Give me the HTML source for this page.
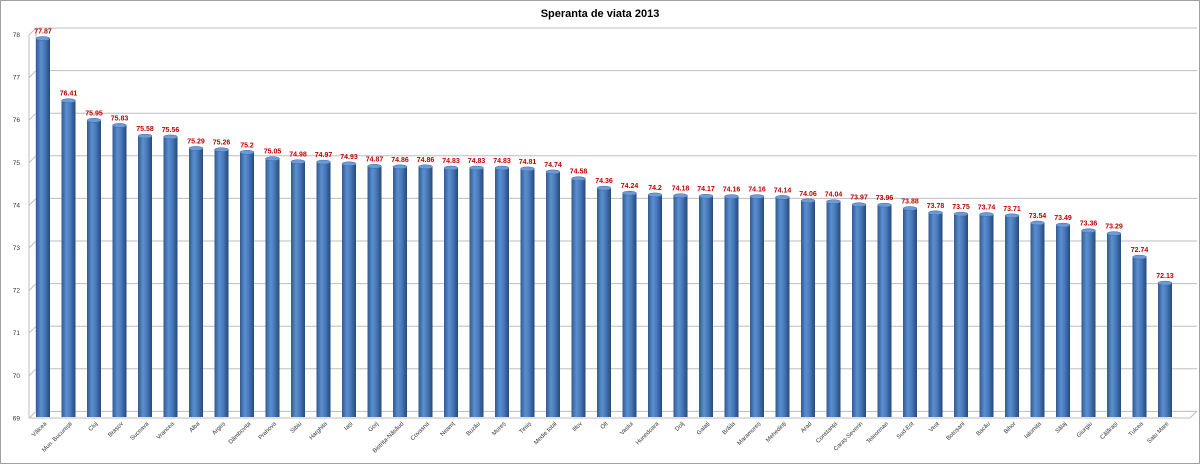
<!DOCTYPE html><html><head><meta charset="utf-8"><style>body{margin:0;background:#fff}svg{display:block}
.b rect{fill:url(#g)}.b ellipse{fill:#6e9bd6;stroke:#3a6aa8;stroke-width:.5}
.v{font-size:7px;font-weight:bold;fill:#c00000;text-anchor:middle}
.l{font-size:6px;fill:#333;text-anchor:end}
.t{font-size:6.5px;fill:#333;text-anchor:end}
.gl line{stroke:#bdbdbd;stroke-width:1}
</style></head><body>
<svg width="1200" height="464" xmlns="http://www.w3.org/2000/svg" font-family="Liberation Sans, sans-serif">
<defs><linearGradient id="g" x1="0" x2="1"><stop offset="0" stop-color="#2f5a92"/><stop offset="0.35" stop-color="#5b8fd0"/><stop offset="0.6" stop-color="#4a7cbc"/><stop offset="1" stop-color="#26497a"/></linearGradient></defs>
<rect x="0.5" y="0.5" width="1199" height="463" fill="#fff" stroke="#a0a0a0"/>
<text x="600" y="17" text-anchor="middle" font-size="11" font-weight="bold">Speranta de viata 2013</text>
<g class="gl">
<line x1="36" y1="28" x2="1197" y2="28"/><line x1="36" y1="70.6" x2="1197" y2="70.6"/><line x1="36" y1="113.2" x2="1197" y2="113.2"/><line x1="36" y1="155.8" x2="1197" y2="155.8"/><line x1="36" y1="198.4" x2="1197" y2="198.4"/><line x1="36" y1="241" x2="1197" y2="241"/><line x1="36" y1="283.6" x2="1197" y2="283.6"/><line x1="36" y1="326.2" x2="1197" y2="326.2"/><line x1="36" y1="368.8" x2="1197" y2="368.8"/><line x1="36" y1="411.4" x2="1197" y2="411.4"/>
<line x1="29" y1="35" x2="36" y2="28"/><line x1="29" y1="77.6" x2="36" y2="70.6"/><line x1="29" y1="120.2" x2="36" y2="113.2"/><line x1="29" y1="162.8" x2="36" y2="155.8"/><line x1="29" y1="205.4" x2="36" y2="198.4"/><line x1="29" y1="248" x2="36" y2="241"/><line x1="29" y1="290.6" x2="36" y2="283.6"/><line x1="29" y1="333.2" x2="36" y2="326.2"/><line x1="29" y1="375.8" x2="36" y2="368.8"/><line x1="29" y1="418.4" x2="36" y2="411.4"/>
<line x1="36" y1="28" x2="36" y2="411"/><line x1="29" y1="35" x2="29" y2="418"/><line x1="29" y1="418" x2="1190" y2="418"/><line x1="1190" y1="418" x2="1197" y2="411"/>
</g>
<g><text class="t" x="20" y="37">78</text><text class="t" x="20" y="79.6">77</text><text class="t" x="20" y="122.2">76</text><text class="t" x="20" y="164.8">75</text><text class="t" x="20" y="207.4">74</text><text class="t" x="20" y="250">73</text><text class="t" x="20" y="292.6">72</text><text class="t" x="20" y="335.2">71</text><text class="t" x="20" y="377.8">70</text><text class="t" x="20" y="420.4">69</text></g>
<g class="b">
<g transform="translate(43)"><rect x="-7" y="38.5" width="14" height="378.5"/><ellipse rx="7" ry="2" cy="38.5"/><text class="v" y="33.5">77.87</text><text class="l" transform="translate(4,424) rotate(-45)">Vâlcea</text></g>
<g transform="translate(68.5)"><rect x="-7" y="100.7" width="14" height="316.3"/><ellipse rx="7" ry="2" cy="100.7"/><text class="v" y="95.7">76.41</text><text class="l" transform="translate(4,424) rotate(-45)">Mun. București</text></g>
<g transform="translate(94)"><rect x="-7" y="120.3" width="14" height="296.7"/><ellipse rx="7" ry="2" cy="120.3"/><text class="v" y="115.3">75.95</text><text class="l" transform="translate(4,424) rotate(-45)">Cluj</text></g>
<g transform="translate(119.5)"><rect x="-7" y="125.4" width="14" height="291.6"/><ellipse rx="7" ry="2" cy="125.4"/><text class="v" y="120.4">75.83</text><text class="l" transform="translate(4,424) rotate(-45)">Brașov</text></g>
<g transform="translate(145)"><rect x="-7" y="136.1" width="14" height="280.9"/><ellipse rx="7" ry="2" cy="136.1"/><text class="v" y="131.1">75.58</text><text class="l" transform="translate(4,424) rotate(-45)">Suceava</text></g>
<g transform="translate(170.5)"><rect x="-7" y="136.9" width="14" height="280.1"/><ellipse rx="7" ry="2" cy="136.9"/><text class="v" y="131.9">75.56</text><text class="l" transform="translate(4,424) rotate(-45)">Vrancea</text></g>
<g transform="translate(196)"><rect x="-7" y="148.4" width="14" height="268.6"/><ellipse rx="7" ry="2" cy="148.4"/><text class="v" y="143.4">75.29</text><text class="l" transform="translate(4,424) rotate(-45)">Alba</text></g>
<g transform="translate(221.5)"><rect x="-7" y="149.7" width="14" height="267.3"/><ellipse rx="7" ry="2" cy="149.7"/><text class="v" y="144.7">75.26</text><text class="l" transform="translate(4,424) rotate(-45)">Argeș</text></g>
<g transform="translate(247)"><rect x="-7" y="152.3" width="14" height="264.7"/><ellipse rx="7" ry="2" cy="152.3"/><text class="v" y="147.3">75.2</text><text class="l" transform="translate(4,424) rotate(-45)">Dâmbovița</text></g>
<g transform="translate(272.5)"><rect x="-7" y="158.7" width="14" height="258.3"/><ellipse rx="7" ry="2" cy="158.7"/><text class="v" y="153.7">75.05</text><text class="l" transform="translate(4,424) rotate(-45)">Prahova</text></g>
<g transform="translate(298)"><rect x="-7" y="161.7" width="14" height="255.3"/><ellipse rx="7" ry="2" cy="161.7"/><text class="v" y="156.7">74.98</text><text class="l" transform="translate(4,424) rotate(-45)">Sibiu</text></g>
<g transform="translate(323.5)"><rect x="-7" y="162.1" width="14" height="254.9"/><ellipse rx="7" ry="2" cy="162.1"/><text class="v" y="157.1">74.97</text><text class="l" transform="translate(4,424) rotate(-45)">Harghita</text></g>
<g transform="translate(349)"><rect x="-7" y="163.8" width="14" height="253.2"/><ellipse rx="7" ry="2" cy="163.8"/><text class="v" y="158.8">74.93</text><text class="l" transform="translate(4,424) rotate(-45)">Iași</text></g>
<g transform="translate(374.5)"><rect x="-7" y="166.3" width="14" height="250.7"/><ellipse rx="7" ry="2" cy="166.3"/><text class="v" y="161.3">74.87</text><text class="l" transform="translate(4,424) rotate(-45)">Gorj</text></g>
<g transform="translate(400)"><rect x="-7" y="166.8" width="14" height="250.2"/><ellipse rx="7" ry="2" cy="166.8"/><text class="v" y="161.8">74.86</text><text class="l" transform="translate(4,424) rotate(-45)">Bistrița-Năsăud</text></g>
<g transform="translate(425.5)"><rect x="-7" y="166.8" width="14" height="250.2"/><ellipse rx="7" ry="2" cy="166.8"/><text class="v" y="161.8">74.86</text><text class="l" transform="translate(4,424) rotate(-45)">Covasna</text></g>
<g transform="translate(451)"><rect x="-7" y="168" width="14" height="249"/><ellipse rx="7" ry="2" cy="168"/><text class="v" y="163">74.83</text><text class="l" transform="translate(4,424) rotate(-45)">Neamț</text></g>
<g transform="translate(476.5)"><rect x="-7" y="168" width="14" height="249"/><ellipse rx="7" ry="2" cy="168"/><text class="v" y="163">74.83</text><text class="l" transform="translate(4,424) rotate(-45)">Buzău</text></g>
<g transform="translate(502)"><rect x="-7" y="168" width="14" height="249"/><ellipse rx="7" ry="2" cy="168"/><text class="v" y="163">74.83</text><text class="l" transform="translate(4,424) rotate(-45)">Mureș</text></g>
<g transform="translate(527.5)"><rect x="-7" y="168.9" width="14" height="248.1"/><ellipse rx="7" ry="2" cy="168.9"/><text class="v" y="163.9">74.81</text><text class="l" transform="translate(4,424) rotate(-45)">Timiș</text></g>
<g transform="translate(553)"><rect x="-7" y="171.9" width="14" height="245.1"/><ellipse rx="7" ry="2" cy="171.9"/><text class="v" y="166.9">74.74</text><text class="l" transform="translate(4,424) rotate(-45)">Medie total</text></g>
<g transform="translate(578.5)"><rect x="-7" y="178.7" width="14" height="238.3"/><ellipse rx="7" ry="2" cy="178.7"/><text class="v" y="173.7">74.58</text><text class="l" transform="translate(4,424) rotate(-45)">Ilfov</text></g>
<g transform="translate(604)"><rect x="-7" y="188.1" width="14" height="228.9"/><ellipse rx="7" ry="2" cy="188.1"/><text class="v" y="183.1">74.36</text><text class="l" transform="translate(4,424) rotate(-45)">Olt</text></g>
<g transform="translate(629.5)"><rect x="-7" y="193.2" width="14" height="223.8"/><ellipse rx="7" ry="2" cy="193.2"/><text class="v" y="188.2">74.24</text><text class="l" transform="translate(4,424) rotate(-45)">Vaslui</text></g>
<g transform="translate(655)"><rect x="-7" y="194.9" width="14" height="222.1"/><ellipse rx="7" ry="2" cy="194.9"/><text class="v" y="189.9">74.2</text><text class="l" transform="translate(4,424) rotate(-45)">Hunedoara</text></g>
<g transform="translate(680.5)"><rect x="-7" y="195.7" width="14" height="221.3"/><ellipse rx="7" ry="2" cy="195.7"/><text class="v" y="190.7">74.18</text><text class="l" transform="translate(4,424) rotate(-45)">Dolj</text></g>
<g transform="translate(706)"><rect x="-7" y="196.2" width="14" height="220.8"/><ellipse rx="7" ry="2" cy="196.2"/><text class="v" y="191.2">74.17</text><text class="l" transform="translate(4,424) rotate(-45)">Galați</text></g>
<g transform="translate(731.5)"><rect x="-7" y="196.6" width="14" height="220.4"/><ellipse rx="7" ry="2" cy="196.6"/><text class="v" y="191.6">74.16</text><text class="l" transform="translate(4,424) rotate(-45)">Brăila</text></g>
<g transform="translate(757)"><rect x="-7" y="196.6" width="14" height="220.4"/><ellipse rx="7" ry="2" cy="196.6"/><text class="v" y="191.6">74.16</text><text class="l" transform="translate(4,424) rotate(-45)">Maramureș</text></g>
<g transform="translate(782.5)"><rect x="-7" y="197.4" width="14" height="219.6"/><ellipse rx="7" ry="2" cy="197.4"/><text class="v" y="192.4">74.14</text><text class="l" transform="translate(4,424) rotate(-45)">Mehedinți</text></g>
<g transform="translate(808)"><rect x="-7" y="200.8" width="14" height="216.2"/><ellipse rx="7" ry="2" cy="200.8"/><text class="v" y="195.8">74.06</text><text class="l" transform="translate(4,424) rotate(-45)">Arad</text></g>
<g transform="translate(833.5)"><rect x="-7" y="201.7" width="14" height="215.3"/><ellipse rx="7" ry="2" cy="201.7"/><text class="v" y="196.7">74.04</text><text class="l" transform="translate(4,424) rotate(-45)">Constanța</text></g>
<g transform="translate(859)"><rect x="-7" y="204.7" width="14" height="212.3"/><ellipse rx="7" ry="2" cy="204.7"/><text class="v" y="199.7">73.97</text><text class="l" transform="translate(4,424) rotate(-45)">Caraș-Severin</text></g>
<g transform="translate(884.5)"><rect x="-7" y="205.1" width="14" height="211.9"/><ellipse rx="7" ry="2" cy="205.1"/><text class="v" y="200.1">73.96</text><text class="l" transform="translate(4,424) rotate(-45)">Teleorman</text></g>
<g transform="translate(910)"><rect x="-7" y="208.5" width="14" height="208.5"/><ellipse rx="7" ry="2" cy="208.5"/><text class="v" y="203.5">73.88</text><text class="l" transform="translate(4,424) rotate(-45)">Sud-Est</text></g>
<g transform="translate(935.5)"><rect x="-7" y="212.8" width="14" height="204.2"/><ellipse rx="7" ry="2" cy="212.8"/><text class="v" y="207.8">73.78</text><text class="l" transform="translate(4,424) rotate(-45)">Vest</text></g>
<g transform="translate(961)"><rect x="-7" y="214.1" width="14" height="202.9"/><ellipse rx="7" ry="2" cy="214.1"/><text class="v" y="209.1">73.75</text><text class="l" transform="translate(4,424) rotate(-45)">Botoșani</text></g>
<g transform="translate(986.5)"><rect x="-7" y="214.5" width="14" height="202.5"/><ellipse rx="7" ry="2" cy="214.5"/><text class="v" y="209.5">73.74</text><text class="l" transform="translate(4,424) rotate(-45)">Bacău</text></g>
<g transform="translate(1012)"><rect x="-7" y="215.8" width="14" height="201.2"/><ellipse rx="7" ry="2" cy="215.8"/><text class="v" y="210.8">73.71</text><text class="l" transform="translate(4,424) rotate(-45)">Bihor</text></g>
<g transform="translate(1037.5)"><rect x="-7" y="223" width="14" height="194"/><ellipse rx="7" ry="2" cy="223"/><text class="v" y="218">73.54</text><text class="l" transform="translate(4,424) rotate(-45)">Ialomița</text></g>
<g transform="translate(1063)"><rect x="-7" y="225.1" width="14" height="191.9"/><ellipse rx="7" ry="2" cy="225.1"/><text class="v" y="220.1">73.49</text><text class="l" transform="translate(4,424) rotate(-45)">Sălaj</text></g>
<g transform="translate(1088.5)"><rect x="-7" y="230.7" width="14" height="186.3"/><ellipse rx="7" ry="2" cy="230.7"/><text class="v" y="225.7">73.36</text><text class="l" transform="translate(4,424) rotate(-45)">Giurgiu</text></g>
<g transform="translate(1114)"><rect x="-7" y="233.6" width="14" height="183.4"/><ellipse rx="7" ry="2" cy="233.6"/><text class="v" y="228.6">73.29</text><text class="l" transform="translate(4,424) rotate(-45)">Călărași</text></g>
<g transform="translate(1139.5)"><rect x="-7" y="257.1" width="14" height="159.9"/><ellipse rx="7" ry="2" cy="257.1"/><text class="v" y="252.1">72.74</text><text class="l" transform="translate(4,424) rotate(-45)">Tulcea</text></g>
<g transform="translate(1165)"><rect x="-7" y="283.1" width="14" height="133.9"/><ellipse rx="7" ry="2" cy="283.1"/><text class="v" y="278.1">72.13</text><text class="l" transform="translate(4,424) rotate(-45)">Satu Mare</text></g>
</g>
</svg></body></html>
